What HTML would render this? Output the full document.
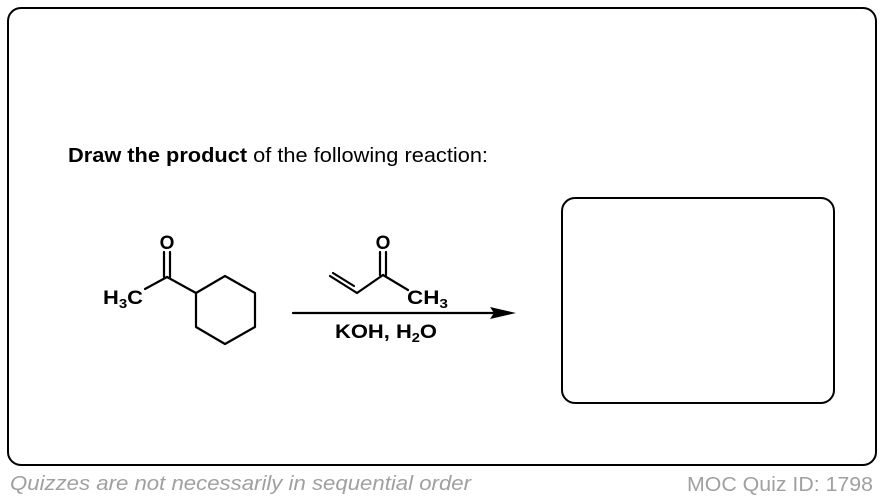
<!DOCTYPE html>
<html><head><style>
html,body{margin:0;padding:0;background:#fff;}
body{width:884px;height:498px;position:relative;overflow:hidden;font-family:"Liberation Sans",Arial,sans-serif;}
.outer{position:absolute;left:7px;top:7px;border:2.5px solid #000;border-radius:14px;box-sizing:border-box;width:870px;height:459px;}
.inner{position:absolute;left:561px;top:197px;width:274px;height:207px;border:2.5px solid #000;border-radius:14px;box-sizing:border-box;}
</style></head><body>
<div class="outer"></div>
<div class="inner"></div>
<svg width="884" height="498" style="position:absolute;left:0;top:0" font-family="Liberation Sans, Arial, sans-serif">
<text x="68" y="162" font-size="20.5" textLength="420" lengthAdjust="spacingAndGlyphs"><tspan font-weight="bold">Draw the product</tspan> of the following reaction:</text>
<text x="10" y="490" font-size="20.5" font-style="italic" fill="#a0a0a0" textLength="461" lengthAdjust="spacingAndGlyphs">Quizzes are not necessarily in sequential order</text>
<text x="687" y="491" font-size="20.5" fill="#a0a0a0" textLength="186" lengthAdjust="spacingAndGlyphs">MOC Quiz ID: 1798</text>
<g font-weight="bold">
<g stroke="#000" stroke-width="2.2" fill="none" stroke-linecap="round">
<line x1="164" y1="252" x2="164" y2="277"/><line x1="170" y1="252" x2="170" y2="277"/>
<line x1="167" y1="277" x2="145" y2="289"/>
<line x1="167" y1="277" x2="196" y2="293"/>
<polygon points="196,293 225,276 255,293 255,327 225,344 196,327" stroke-linejoin="round"/>
<line x1="380" y1="252" x2="380" y2="275"/><line x1="386" y1="252" x2="386" y2="275"/>
<line x1="383" y1="275" x2="408" y2="290"/>
<line x1="383" y1="275" x2="357" y2="293"/>
<line x1="357" y1="293" x2="330" y2="276"/>
<line x1="354" y1="286" x2="333" y2="273" />
<line x1="293" y1="313" x2="495" y2="313"/>
</g>
<polygon points="490,307 516,313 490,319 494,313" fill="#000"/>
<text x="167" y="249" font-size="19" text-anchor="middle">O</text>
<text x="383" y="249" font-size="19" text-anchor="middle">O</text>
<text x="103" y="304" font-size="19" textLength="40" lengthAdjust="spacingAndGlyphs">H<tspan font-size="13" dy="4">3</tspan><tspan dy="-4">C</tspan></text>
<text x="407" y="304" font-size="19" textLength="41" lengthAdjust="spacingAndGlyphs">CH<tspan font-size="13" dy="4">3</tspan></text>
<text x="335" y="338" font-size="19.5" textLength="102" lengthAdjust="spacingAndGlyphs">KOH, H<tspan font-size="13" dy="4">2</tspan><tspan dy="-4">O</tspan></text>
</g>
</svg>
</body></html>
